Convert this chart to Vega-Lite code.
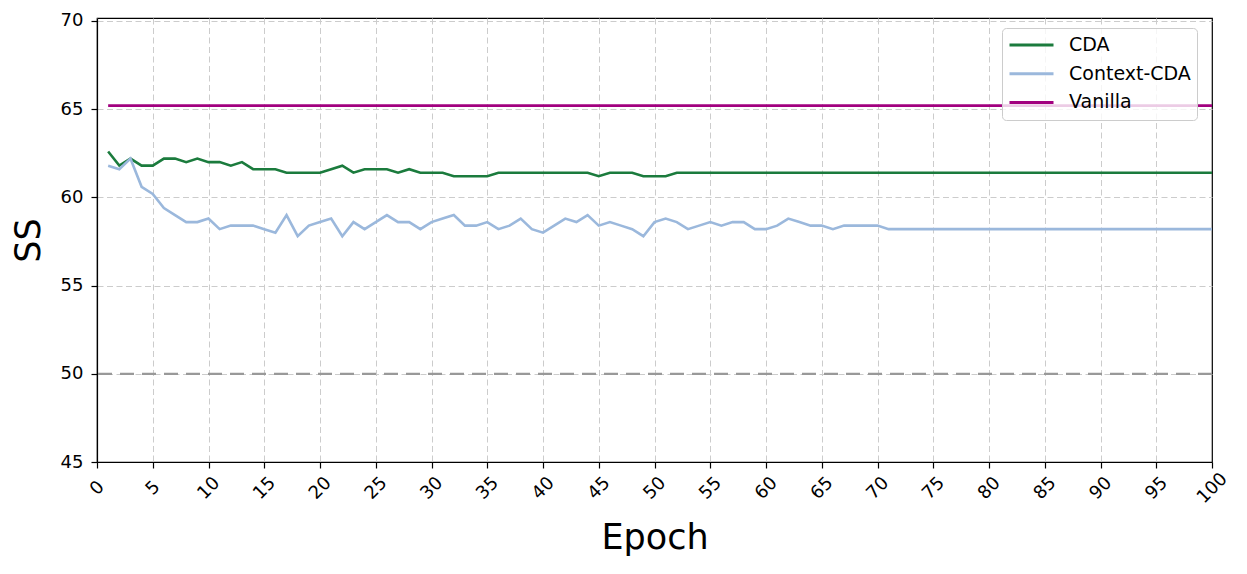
{
 "$schema": "https://vega.github.io/schema/vega-lite/v6.json",
 "width": 1115,
 "height": 444,
 "autosize": {"type": "none"},
 "padding": {"left": 97, "top": 18, "right": 35, "bottom": 112},
 "background": "white",
 "config": {
  "font": "DejaVu Sans",
  "view": {"stroke": "black", "strokeWidth": 1.2},
  "axis": {"domainColor": "black", "domainWidth": 1.2, "tickColor": "black", "tickSize": 6, "tickWidth": 1.2, "labelColor": "black", "titleColor": "black", "labelFont": "DejaVu Sans", "titleFont": "DejaVu Sans", "labelFontSize": 18, "titleFontSize": 35, "titleFontWeight": "normal", "gridColor": "#cccccc", "gridDash": [6, 3.5], "gridWidth": 1}
 },
 "layer": [
  {
   "data": {"values": [
    {"epoch": 1, "CDA": 62.6, "Context-CDA": 61.8, "Vanilla": 65.2},
    {"epoch": 2, "CDA": 61.8, "Context-CDA": 61.6, "Vanilla": 65.2},
    {"epoch": 3, "CDA": 62.2, "Context-CDA": 62.2, "Vanilla": 65.2},
    {"epoch": 4, "CDA": 61.8, "Context-CDA": 60.6, "Vanilla": 65.2},
    {"epoch": 5, "CDA": 61.8, "Context-CDA": 60.2, "Vanilla": 65.2},
    {"epoch": 6, "CDA": 62.2, "Context-CDA": 59.4, "Vanilla": 65.2},
    {"epoch": 7, "CDA": 62.2, "Context-CDA": 59.0, "Vanilla": 65.2},
    {"epoch": 8, "CDA": 62.0, "Context-CDA": 58.6, "Vanilla": 65.2},
    {"epoch": 9, "CDA": 62.2, "Context-CDA": 58.6, "Vanilla": 65.2},
    {"epoch": 10, "CDA": 62.0, "Context-CDA": 58.8, "Vanilla": 65.2},
    {"epoch": 11, "CDA": 62.0, "Context-CDA": 58.2, "Vanilla": 65.2},
    {"epoch": 12, "CDA": 61.8, "Context-CDA": 58.4, "Vanilla": 65.2},
    {"epoch": 13, "CDA": 62.0, "Context-CDA": 58.4, "Vanilla": 65.2},
    {"epoch": 14, "CDA": 61.6, "Context-CDA": 58.4, "Vanilla": 65.2},
    {"epoch": 15, "CDA": 61.6, "Context-CDA": 58.2, "Vanilla": 65.2},
    {"epoch": 16, "CDA": 61.6, "Context-CDA": 58.0, "Vanilla": 65.2},
    {"epoch": 17, "CDA": 61.4, "Context-CDA": 59.0, "Vanilla": 65.2},
    {"epoch": 18, "CDA": 61.4, "Context-CDA": 57.8, "Vanilla": 65.2},
    {"epoch": 19, "CDA": 61.4, "Context-CDA": 58.4, "Vanilla": 65.2},
    {"epoch": 20, "CDA": 61.4, "Context-CDA": 58.6, "Vanilla": 65.2},
    {"epoch": 21, "CDA": 61.6, "Context-CDA": 58.8, "Vanilla": 65.2},
    {"epoch": 22, "CDA": 61.8, "Context-CDA": 57.8, "Vanilla": 65.2},
    {"epoch": 23, "CDA": 61.4, "Context-CDA": 58.6, "Vanilla": 65.2},
    {"epoch": 24, "CDA": 61.6, "Context-CDA": 58.2, "Vanilla": 65.2},
    {"epoch": 25, "CDA": 61.6, "Context-CDA": 58.6, "Vanilla": 65.2},
    {"epoch": 26, "CDA": 61.6, "Context-CDA": 59.0, "Vanilla": 65.2},
    {"epoch": 27, "CDA": 61.4, "Context-CDA": 58.6, "Vanilla": 65.2},
    {"epoch": 28, "CDA": 61.6, "Context-CDA": 58.6, "Vanilla": 65.2},
    {"epoch": 29, "CDA": 61.4, "Context-CDA": 58.2, "Vanilla": 65.2},
    {"epoch": 30, "CDA": 61.4, "Context-CDA": 58.6, "Vanilla": 65.2},
    {"epoch": 31, "CDA": 61.4, "Context-CDA": 58.8, "Vanilla": 65.2},
    {"epoch": 32, "CDA": 61.2, "Context-CDA": 59.0, "Vanilla": 65.2},
    {"epoch": 33, "CDA": 61.2, "Context-CDA": 58.4, "Vanilla": 65.2},
    {"epoch": 34, "CDA": 61.2, "Context-CDA": 58.4, "Vanilla": 65.2},
    {"epoch": 35, "CDA": 61.2, "Context-CDA": 58.6, "Vanilla": 65.2},
    {"epoch": 36, "CDA": 61.4, "Context-CDA": 58.2, "Vanilla": 65.2},
    {"epoch": 37, "CDA": 61.4, "Context-CDA": 58.4, "Vanilla": 65.2},
    {"epoch": 38, "CDA": 61.4, "Context-CDA": 58.8, "Vanilla": 65.2},
    {"epoch": 39, "CDA": 61.4, "Context-CDA": 58.2, "Vanilla": 65.2},
    {"epoch": 40, "CDA": 61.4, "Context-CDA": 58.0, "Vanilla": 65.2},
    {"epoch": 41, "CDA": 61.4, "Context-CDA": 58.4, "Vanilla": 65.2},
    {"epoch": 42, "CDA": 61.4, "Context-CDA": 58.8, "Vanilla": 65.2},
    {"epoch": 43, "CDA": 61.4, "Context-CDA": 58.6, "Vanilla": 65.2},
    {"epoch": 44, "CDA": 61.4, "Context-CDA": 59.0, "Vanilla": 65.2},
    {"epoch": 45, "CDA": 61.2, "Context-CDA": 58.4, "Vanilla": 65.2},
    {"epoch": 46, "CDA": 61.4, "Context-CDA": 58.6, "Vanilla": 65.2},
    {"epoch": 47, "CDA": 61.4, "Context-CDA": 58.4, "Vanilla": 65.2},
    {"epoch": 48, "CDA": 61.4, "Context-CDA": 58.2, "Vanilla": 65.2},
    {"epoch": 49, "CDA": 61.2, "Context-CDA": 57.8, "Vanilla": 65.2},
    {"epoch": 50, "CDA": 61.2, "Context-CDA": 58.6, "Vanilla": 65.2},
    {"epoch": 51, "CDA": 61.2, "Context-CDA": 58.8, "Vanilla": 65.2},
    {"epoch": 52, "CDA": 61.4, "Context-CDA": 58.6, "Vanilla": 65.2},
    {"epoch": 53, "CDA": 61.4, "Context-CDA": 58.2, "Vanilla": 65.2},
    {"epoch": 54, "CDA": 61.4, "Context-CDA": 58.4, "Vanilla": 65.2},
    {"epoch": 55, "CDA": 61.4, "Context-CDA": 58.6, "Vanilla": 65.2},
    {"epoch": 56, "CDA": 61.4, "Context-CDA": 58.4, "Vanilla": 65.2},
    {"epoch": 57, "CDA": 61.4, "Context-CDA": 58.6, "Vanilla": 65.2},
    {"epoch": 58, "CDA": 61.4, "Context-CDA": 58.6, "Vanilla": 65.2},
    {"epoch": 59, "CDA": 61.4, "Context-CDA": 58.2, "Vanilla": 65.2},
    {"epoch": 60, "CDA": 61.4, "Context-CDA": 58.2, "Vanilla": 65.2},
    {"epoch": 61, "CDA": 61.4, "Context-CDA": 58.4, "Vanilla": 65.2},
    {"epoch": 62, "CDA": 61.4, "Context-CDA": 58.8, "Vanilla": 65.2},
    {"epoch": 63, "CDA": 61.4, "Context-CDA": 58.6, "Vanilla": 65.2},
    {"epoch": 64, "CDA": 61.4, "Context-CDA": 58.4, "Vanilla": 65.2},
    {"epoch": 65, "CDA": 61.4, "Context-CDA": 58.4, "Vanilla": 65.2},
    {"epoch": 66, "CDA": 61.4, "Context-CDA": 58.2, "Vanilla": 65.2},
    {"epoch": 67, "CDA": 61.4, "Context-CDA": 58.4, "Vanilla": 65.2},
    {"epoch": 68, "CDA": 61.4, "Context-CDA": 58.4, "Vanilla": 65.2},
    {"epoch": 69, "CDA": 61.4, "Context-CDA": 58.4, "Vanilla": 65.2},
    {"epoch": 70, "CDA": 61.4, "Context-CDA": 58.4, "Vanilla": 65.2},
    {"epoch": 71, "CDA": 61.4, "Context-CDA": 58.2, "Vanilla": 65.2},
    {"epoch": 72, "CDA": 61.4, "Context-CDA": 58.2, "Vanilla": 65.2},
    {"epoch": 73, "CDA": 61.4, "Context-CDA": 58.2, "Vanilla": 65.2},
    {"epoch": 74, "CDA": 61.4, "Context-CDA": 58.2, "Vanilla": 65.2},
    {"epoch": 75, "CDA": 61.4, "Context-CDA": 58.2, "Vanilla": 65.2},
    {"epoch": 76, "CDA": 61.4, "Context-CDA": 58.2, "Vanilla": 65.2},
    {"epoch": 77, "CDA": 61.4, "Context-CDA": 58.2, "Vanilla": 65.2},
    {"epoch": 78, "CDA": 61.4, "Context-CDA": 58.2, "Vanilla": 65.2},
    {"epoch": 79, "CDA": 61.4, "Context-CDA": 58.2, "Vanilla": 65.2},
    {"epoch": 80, "CDA": 61.4, "Context-CDA": 58.2, "Vanilla": 65.2},
    {"epoch": 81, "CDA": 61.4, "Context-CDA": 58.2, "Vanilla": 65.2},
    {"epoch": 82, "CDA": 61.4, "Context-CDA": 58.2, "Vanilla": 65.2},
    {"epoch": 83, "CDA": 61.4, "Context-CDA": 58.2, "Vanilla": 65.2},
    {"epoch": 84, "CDA": 61.4, "Context-CDA": 58.2, "Vanilla": 65.2},
    {"epoch": 85, "CDA": 61.4, "Context-CDA": 58.2, "Vanilla": 65.2},
    {"epoch": 86, "CDA": 61.4, "Context-CDA": 58.2, "Vanilla": 65.2},
    {"epoch": 87, "CDA": 61.4, "Context-CDA": 58.2, "Vanilla": 65.2},
    {"epoch": 88, "CDA": 61.4, "Context-CDA": 58.2, "Vanilla": 65.2},
    {"epoch": 89, "CDA": 61.4, "Context-CDA": 58.2, "Vanilla": 65.2},
    {"epoch": 90, "CDA": 61.4, "Context-CDA": 58.2, "Vanilla": 65.2},
    {"epoch": 91, "CDA": 61.4, "Context-CDA": 58.2, "Vanilla": 65.2},
    {"epoch": 92, "CDA": 61.4, "Context-CDA": 58.2, "Vanilla": 65.2},
    {"epoch": 93, "CDA": 61.4, "Context-CDA": 58.2, "Vanilla": 65.2},
    {"epoch": 94, "CDA": 61.4, "Context-CDA": 58.2, "Vanilla": 65.2},
    {"epoch": 95, "CDA": 61.4, "Context-CDA": 58.2, "Vanilla": 65.2},
    {"epoch": 96, "CDA": 61.4, "Context-CDA": 58.2, "Vanilla": 65.2},
    {"epoch": 97, "CDA": 61.4, "Context-CDA": 58.2, "Vanilla": 65.2},
    {"epoch": 98, "CDA": 61.4, "Context-CDA": 58.2, "Vanilla": 65.2},
    {"epoch": 99, "CDA": 61.4, "Context-CDA": 58.2, "Vanilla": 65.2},
    {"epoch": 100, "CDA": 61.4, "Context-CDA": 58.2, "Vanilla": 65.2}
   ]},
   "transform": [{"fold": ["CDA", "Context-CDA", "Vanilla"], "as": ["model", "ss"]}],
   "mark": {"type": "line", "strokeWidth": 2.6},
   "encoding": {
    "x": {"field": "epoch", "type": "quantitative",
     "scale": {"domain": [0, 100], "nice": false, "zero": false},
     "axis": {"values": [0, 5, 10, 15, 20, 25, 30, 35, 40, 45, 50, 55, 60, 65, 70, 75, 80, 85, 90, 95, 100], "labelAngle": -45, "labelAlign": "center", "labelBaseline": "middle", "labelPadding": 20, "labelFlush": false, "labelOverlap": false, "title": "Epoch", "titlePadding": 14,
      "gridOpacity": {"condition": {"test": "datum.value >= 100", "value": 0}, "value": 1}}},
    "y": {"field": "ss", "type": "quantitative",
     "scale": {"domain": [45, 70.17], "nice": false, "zero": false},
     "axis": {"values": [45, 50, 55, 60, 65, 70], "labelPadding": 8, "title": "SS", "titlePadding": 14}},
    "color": {"field": "model", "type": "nominal",
     "scale": {"domain": ["CDA", "Context-CDA", "Vanilla"], "range": ["#1b7b3d", "#9bb8dc", "#a2007f"]},
     "legend": {"title": null, "orient": "none", "legendX": 905, "legendY": 10, "symbolType": "stroke", "symbolSize": 1936, "symbolStrokeWidth": 3, "clipHeight": 22, "rowPadding": 6.7, "labelFontSize": 19, "labelFont": "DejaVu Sans", "labelColor": "black", "labelOffset": 14, "padding": 6, "strokeColor": "#cccccc", "fillColor": "rgba(255,255,255,0.8)", "cornerRadius": 4}}
   }
  },
  {
   "data": {"values": [{"ss": 50}]},
   "mark": {"type": "rule", "color": "#999999", "strokeWidth": 2.2, "strokeDash": [14, 8]},
   "encoding": {"y": {"field": "ss", "type": "quantitative"}}
  }
 ]
}
